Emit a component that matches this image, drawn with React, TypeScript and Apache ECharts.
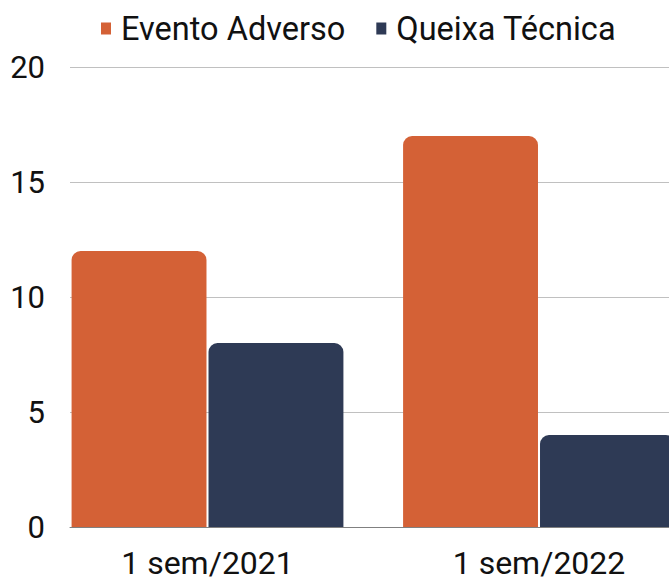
import React, { useEffect, useRef } from "react";
import * as echarts from "echarts";

const categories = ["1 sem/2021", "1 sem/2022"];
const seriesNames = ["Evento Adverso", "Queixa Técnica"];
const eventoAdverso = [12, 17];
const queixaTecnica = [8, 4];
const yTicks = [0, 5, 10, 15, 20];

const FONT = "Roboto, 'Noto Sans', sans-serif";

export default function App() {
  const ref = useRef<HTMLDivElement>(null);
  useEffect(() => {
    if (!ref.current) return;
    const chart = echarts.init(ref.current, null, { renderer: "svg" });
    chart.setOption({
      animation: false,
      backgroundColor: "#ffffff",
      legend: {
        data: seriesNames,
        left: 96,
        top: 7,
        itemWidth: 10,
        itemHeight: 12,
        itemGap: 31,
        icon: "rect",
        textStyle: { fontSize: 32.5, color: "#111", fontFamily: FONT, padding: [0, 0, 0, 5] },
      },
      grid: [
        { left: 41.75, width: 663, top: 67, bottom: 54, outerBoundsMode: "none", containLabel: false },
        { left: 70, right: 0, top: 67, bottom: 54, outerBoundsMode: "none", containLabel: false },
      ],
      xAxis: [
        {
          type: "category",
          gridIndex: 0,
          data: categories,
          axisLine: { show: false },
          axisTick: { show: false },
          axisLabel: { fontSize: 32, color: "#111", fontFamily: FONT, margin: 20 },
        },
        {
          type: "value",
          gridIndex: 1,
          show: true,
          min: 0,
          max: 1,
          axisLabel: { show: false },
          axisTick: { show: false },
          splitLine: { show: false },
          axisLine: { show: true, lineStyle: { color: "#808080", width: 1 } },
        },
      ],
      yAxis: [
        {
          type: "value",
          gridIndex: 0,
          min: 0,
          max: 20,
          interval: 5,
          show: false,
        },
        {
          type: "value",
          gridIndex: 1,
          min: yTicks[0],
          max: yTicks[yTicks.length - 1],
          interval: 5,
          axisLine: { show: false },
          axisTick: { show: false },
          axisLabel: { fontSize: 31, color: "#111", fontFamily: FONT, margin: 25 },
          splitLine: { lineStyle: { color: "#c0c0c0", width: 1 } },
          z: 0,
        },
      ],
      series: [
        {
          name: seriesNames[0],
          type: "bar",
          xAxisIndex: 0,
          yAxisIndex: 0,
          data: eventoAdverso,
          barCategoryGap: "18%",
          barGap: "1.5%",
          itemStyle: { color: "#D46136", borderRadius: [9, 9, 0, 0] },
          z: 3,
        },
        {
          name: seriesNames[1],
          type: "bar",
          xAxisIndex: 0,
          yAxisIndex: 0,
          data: queixaTecnica,
          barCategoryGap: "18%",
          barGap: "1.5%",
          itemStyle: { color: "#2E3A55", borderRadius: [9, 9, 0, 0] },
          z: 3,
        },
      ],
    });
    return () => chart.dispose();
  }, []);
  return (
    <div
      ref={ref}
      style={{ position: "fixed", left: 0, top: 0, width: 669, height: 581 }}
    />
  );
}
